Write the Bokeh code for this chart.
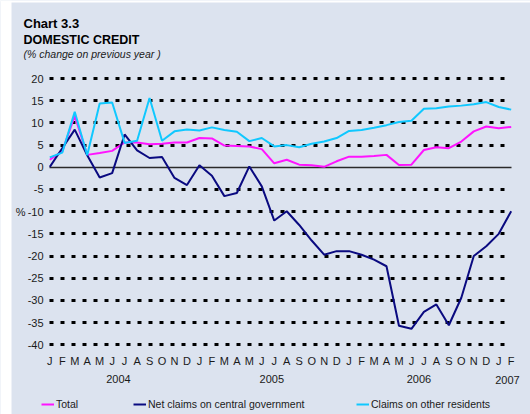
from bokeh.plotting import figure
from bokeh.models import (Range1d, FixedTicker, Grid, Label, Legend, LegendItem,
                          ColumnDataSource, BoxAnnotation)
from bokeh.core.properties import value
from bokeh.embed import file_html
from bokeh.resources import INLINE

# ---------------- data ----------------
month_labels = (["J", "F", "M", "A", "M", "J", "J", "A", "S", "O", "N", "D"] * 3) + ["J", "F"]
year_labels = ["2004", "2005", "2006", "2007"]
year_pos = [5.5, 17.8, 29.6, 36.7]

total = [1.7, 3.6, 11.6, 2.8, 3.2, 3.7, 5.6, 5.6, 5.2, 5.3, 5.6, 5.6,
         6.6, 6.5, 4.9, 4.8, 4.7, 4.1, 0.9, 1.7, 0.6, 0.45, 0.1, 1.35,
         2.4, 2.4, 2.55, 2.8, 0.5, 0.6, 3.9, 4.5, 4.3, 5.8, 8.1, 9.2,
         8.8, 9.1]
net_gov = [0.1, 4.3, 8.5, 2.7, -2.3, -1.3, 7.4, 3.8, 2.1, 2.3, -2.4, -4.0,
           0.45, -1.9, -6.5, -5.8, 0.2, -4.3, -12.0, -9.9, -13.0, -16.5, -19.7, -18.9,
           -18.9, -19.7, -20.8, -22.3, -35.7, -36.4, -32.6, -30.9, -35.6, -29.4, -20.0, -17.8,
           -15.0, -9.9]
other_res = [2.25, 3.3, 12.5, 2.7, 14.4, 14.6, 5.5, 6.0, 15.6, 6.0, 8.1, 8.5,
             8.3, 9.0, 8.4, 8.0, 5.9, 6.6, 4.7, 5.0, 4.5, 5.3, 5.8, 6.6,
             8.2, 8.4, 8.9, 9.5, 10.2, 10.5, 13.2, 13.3, 13.7, 13.9, 14.2, 14.7,
             13.6, 13.0]
y_ticks = [-40, -35, -30, -25, -20, -15, -10, -5, 0, 5, 10, 15, 20]
y_tick_labels = [str(t) for t in y_ticks]

series_names = ["Total", "Net claims on central government", "Claims on other residents"]
series_colors = ["#ff14ff", "#0a0a80", "#10c8ff"]

# ---------------- styles / layout ----------------
BG = "#dce3ef"
FONT = "Liberation Sans"
TXT = "#1a1a1a"
W, H = 530, 414
PX_MONTH = 12.47          # pixels per month
X0 = 49.3                 # pixel of first month
PX_UNIT = 4.437           # pixels per % point
Y0 = 166.8                # pixel of zero line

x = list(range(len(month_labels)))
x_lo = -X0 / PX_MONTH
x_hi = (W - X0) / PX_MONTH
y_hi = Y0 / PX_UNIT
y_lo = (Y0 - H) / PX_UNIT

p = figure(width=W, height=H,
           x_range=Range1d(x_lo, x_hi), y_range=Range1d(y_lo, y_hi),
           output_backend="svg", toolbar_location=None,
           x_axis_type=None, y_axis_type=None, title_location=None,
           min_border_left=0, min_border_right=0,
           min_border_top=0, min_border_bottom=0,
           background_fill_color=BG, border_fill_color=BG,
           outline_line_color=None)
p.xgrid.visible = False
p.ygrid.visible = False

# white page strips at left and top edge (as in the reference frame)
p.add_layout(BoxAnnotation(right=x_lo + 11 / PX_MONTH, fill_color="white", fill_alpha=1,
                           line_color=None, level="underlay"))
p.add_layout(BoxAnnotation(bottom=y_hi - 2 / PX_UNIT, fill_color="white", fill_alpha=1,
                           line_color=None, level="underlay"))

# dotted grid lines (non-zero ticks)
grid = Grid(dimension=1, ticker=FixedTicker(ticks=[t for t in y_ticks if t != 0]),
            cross_bounds=(0, 36.75),
            grid_line_color="black", grid_line_width=3, grid_line_dash="4 7")
p.add_layout(grid)
zero = Grid(dimension=1, ticker=FixedTicker(ticks=[0]),
            cross_bounds=(0, len(month_labels) - 1),
            grid_line_color="#2a2a2a", grid_line_width=1.5)
p.add_layout(zero)

# y tick labels (placed through the y scale)
ysrc = ColumnDataSource(dict(y=y_ticks, text=y_tick_labels, x=[-0.5] * len(y_ticks)))
p.text(x="x", y="y", text="text", source=ysrc, text_align="right", text_baseline="middle",
       text_font=value(FONT), text_font_size="11px", text_color=TXT)
p.text(x=[-1.95], y=[-10], text=["%"], text_align="right", text_baseline="middle",
       text_font=value(FONT), text_font_size="11px", text_color=TXT)

# month labels and year labels (placed through the x scale)
msrc = ColumnDataSource(dict(x=x, text=month_labels, y=[-43.6] * len(x)))
p.text(x="x", y="y", text="text", source=msrc, text_align="center", text_baseline="middle",
       text_font=value(FONT), text_font_size="11px", text_color=TXT)
ysrc2 = ColumnDataSource(dict(x=year_pos, text=year_labels, y=[-47.6, -47.6, -47.6, -48.0]))
p.text(x="x", y="y", text="text", source=ysrc2, text_align="center", text_baseline="middle",
       text_font=value(FONT), text_font_size="11px", text_color=TXT)

# series
renderers = []
for ys, c in zip([total, net_gov, other_res], series_colors):
    r = p.line(x, ys, line_color=c, line_width=2)
    renderers.append(r)

# legends (one per item, placed individually)
for r, name, vx in zip(renderers, series_names, [41, 133, 356]):
    lg = Legend(items=[LegendItem(label=name, renderers=[r])],
                location=(vx, 4), orientation="horizontal",
                background_fill_alpha=0, border_line_alpha=0,
                padding=0, margin=0, spacing=0,
                glyph_width=13, glyph_height=10, label_height=10,
                label_standoff=2,
                label_text_font=FONT, label_text_font_size="10.5px",
                label_text_color=TXT)
    p.add_layout(lg)

# titles
p.add_layout(Label(x=-2.11, y=32.5, text="Chart 3.3", text_baseline="alphabetic",
                   text_font=FONT, text_font_size="13px", text_font_style="bold",
                   text_color="black"))
p.add_layout(Label(x=-2.11, y=28.8, text="DOMESTIC CREDIT", text_baseline="alphabetic",
                   text_font=FONT, text_font_size="12.5px", text_font_style="bold",
                   text_color="black"))
p.add_layout(Label(x=-2.11, y=25.5, text="(% change on previous year )", text_baseline="alphabetic",
                   text_font=FONT, text_font_size="10.5px", text_font_style="italic",
                   text_color=TXT))

open("out.html", "w").write(file_html(p, INLINE))
